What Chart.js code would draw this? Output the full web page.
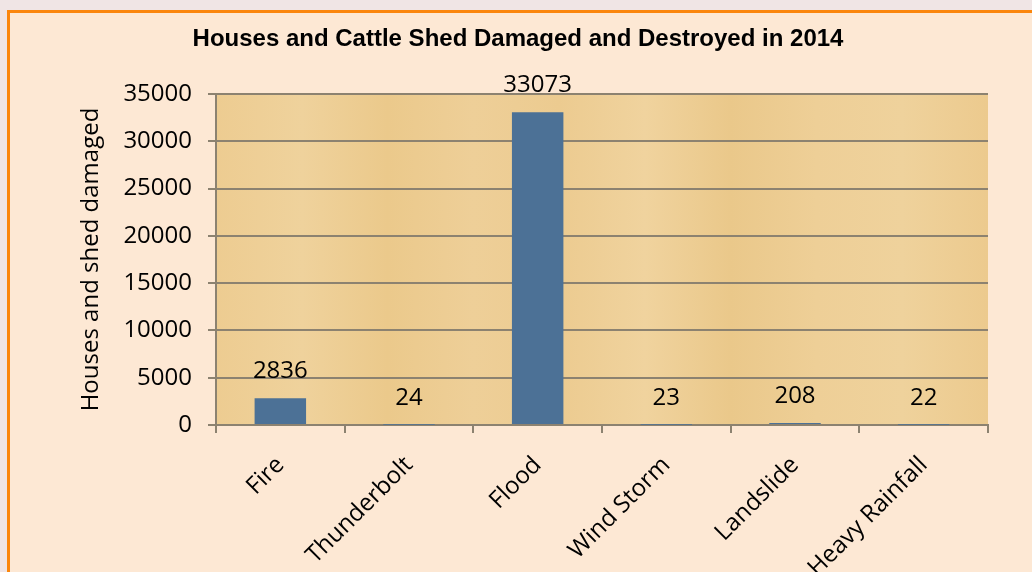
<!DOCTYPE html>
<html lang="en">
<head>
<meta charset="utf-8">
<script src="https://cdn.jsdelivr.net/npm/chart.js@4.4.1/dist/chart.umd.min.js"></script>
<style>
  html, body { margin: 0; padding: 0; background: #f0e5e5; }
  #frame {
    position: absolute; left: 7px; top: 10px; width: 1040px; height: 580px;
    background: #fde8d4; border: 3px solid #fb860d; box-sizing: border-box;
  }
  #wrap { position: absolute; left: 0; top: 0; width: 1032px; height: 572px; }
</style>
</head>
<body>
<div id="frame"></div>
<div id="wrap">
    <canvas id="content" width="1032" height="572"></canvas>
</div>
<script>
    var categories = ["Fire", "Thunderbolt", "Flood", "Wind Storm", "Landslide", "Heavy Rainfall"];
    var damaged = [2836, 24, 33073, 23, 208, 22];
    var yTicks = [0, 5000, 10000, 15000, 20000, 25000, 30000, 35000];

    var axisFont = { family: "'Open Sans', sans-serif", size: 24 };
    var gridColor = '#8c8270';

    // papyrus-ish fill behind the plot
    var plotBg = {
        id: 'plotBg',
        beforeDraw: function (chart) {
            var a = chart.chartArea, c = chart.ctx;
            var g = c.createLinearGradient(a.left, 0, a.right, 0);
            var stops = ['#edcc91', '#efd29c', '#ebc98b', '#eecf98', '#eccb90', '#f0d39e', '#eac88a', '#eecf97', '#efd29c', '#ecca8e'];
            for (var i = 0; i < stops.length; i++) g.addColorStop(i / (stops.length - 1), stops[i]);
            c.save();
            c.fillStyle = g;
            c.fillRect(a.left, a.top, a.right - a.left, a.bottom - a.top);
            c.restore();
        }
    };

    var headline = {
        id: 'headline',
        afterDraw: function (chart) {
            var c = chart.ctx;
            c.save();
            c.font = "bold 24px 'Liberation Sans', Arial, sans-serif";
            c.fillStyle = '#000';
            c.textAlign = 'center';
            c.textBaseline = 'middle';
            c.fillText('Houses and Cattle Shed Damaged and Destroyed in 2014', 518, 39);
            c.restore();
        }
    };

    var valueLabels = {
        id: 'valueLabels',
        afterDatasetsDraw: function (chart) {
            var c = chart.ctx;
            var meta = chart.getDatasetMeta(0);
            c.save();
            c.font = "24px 'Open Sans', sans-serif";
            c.fillStyle = '#000';
            c.textAlign = 'center';
            c.textBaseline = 'middle';
            meta.data.forEach(function (bar, i) {
                c.fillText(String(damaged[i]), bar.x, bar.y - 27);
            });
            c.restore();
        }
    };

    var ctx = document.getElementById("content").getContext("2d");
    new Chart(ctx, {
        type: 'bar',
        data: {
            labels: categories,
            datasets: [{
                label: 'Houses and shed damaged',
                data: damaged,
                backgroundColor: '#4c7196',
                barPercentage: 0.4,
                categoryPercentage: 1
            }]
        },
        options: {
            responsive: false,
            animation: false,
            layout: { padding: { top: 94, right: 44, left: 0, bottom: 0 } },
            plugins: { legend: { display: false }, title: { display: false }, tooltip: { enabled: false } },
            scales: {
                x: {
                    grid: { drawOnChartArea: false, color: gridColor, lineWidth: 2, tickLength: 8 },
                    border: { color: gridColor, width: 2 },
                    ticks: { color: '#000', font: axisFont, minRotation: 45, maxRotation: 45, padding: 18 },
                    afterFit: function (s) { s.height = 147; }
                },
                y: {
                    min: 0, max: 35000,
                    afterBuildTicks: function (s) { s.ticks = yTicks.map(function (v) { return { value: v }; }); },
                    grid: { color: gridColor, lineWidth: 2, tickLength: 8 },
                    border: { color: gridColor, width: 2 },
                    ticks: { color: '#000', font: axisFont, padding: 16, callback: function (v) { return String(v); } },
                    title: { display: true, text: 'Houses and shed damaged', color: '#000', font: axisFont, padding: { top: 77, bottom: 0 } },
                    afterFit: function (s) { s.width = 216; }
                }
            }
        },
        plugins: [plotBg, headline, valueLabels]
    });
</script>
</body>
</html>
